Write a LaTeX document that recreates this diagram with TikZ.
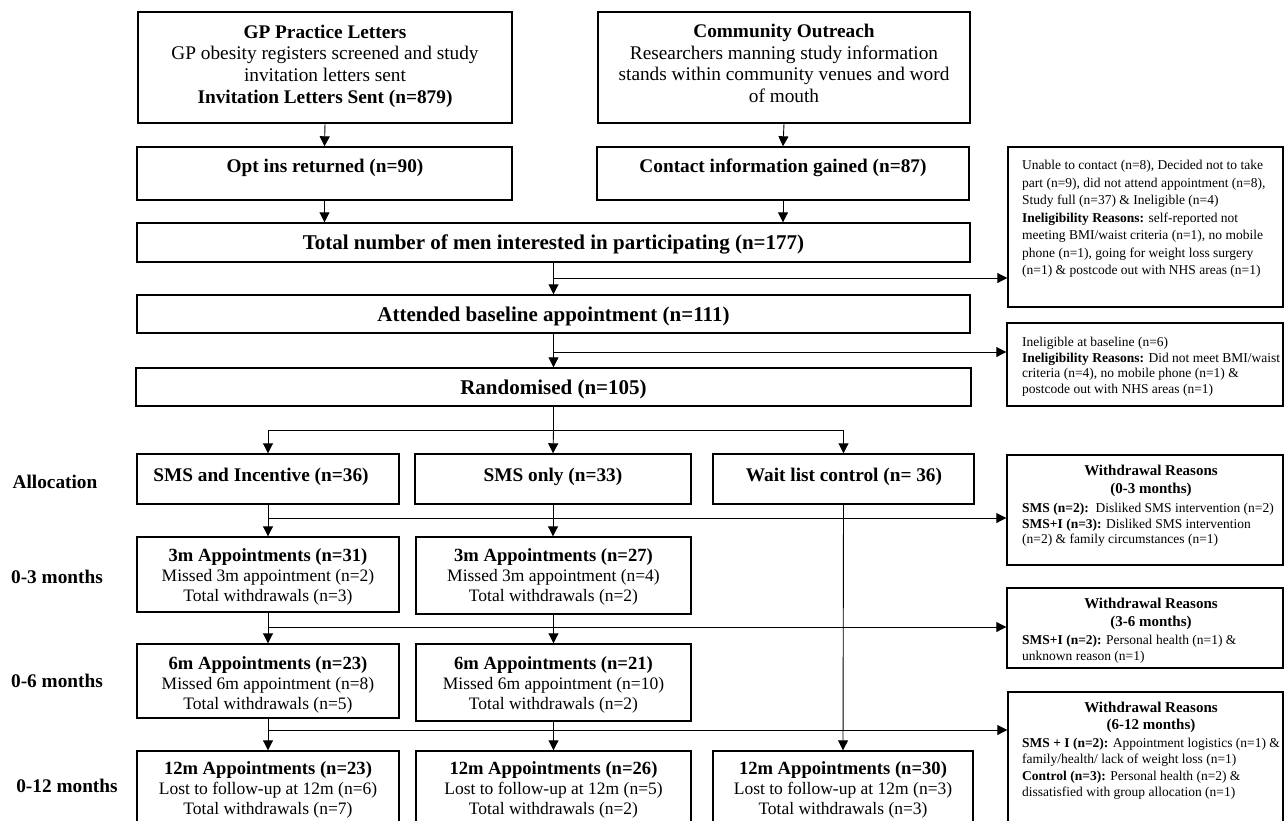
\documentclass[tikz,border=0pt]{standalone}
\usepackage{fontspec}
\setmainfont{Liberation Serif}
\usetikzlibrary{arrows.meta,fit,calc}
\newcommand\setfs[2]{\fontsize{#1}{#2}\selectfont}
\begin{document}
\begin{tikzpicture}[x=1pt,y=-1pt,
  box/.style={draw, line width=1.4pt, inner sep=0pt},
  conn/.style={line width=0.9pt},
  arr/.style={conn, -{Triangle[length=10pt,width=10pt]}},
  main/.style={inner sep=0pt, align=center, font=\setfs{19.3}{21.7}},
  mainb/.style={inner sep=0pt, font=\setfs{19.3}{22}\bfseries},
  big/.style={inner sep=0pt, font=\setfs{21}{24}\bfseries},
  lab/.style={inner sep=0pt, font=\setfs{19.3}{22}\bfseries},
  appt/.style={inner sep=0pt, align=center, font=\setfs{17.5}{20.3}},
  hdr/.style={inner sep=0pt, align=center, font=\setfs{15}{17.5}\bfseries},
  note/.style={inner sep=0pt, align=left, anchor=north west},
]
\useasboundingbox (0,0) rectangle (1285,820);

% ---------- boxes ----------
\node[box, fit={(138,12) (512,123)}] (gp) {};
\node[box, fit={(598,12) (970,123)}] (comm) {};
\node[box, fit={(137,147) (512,200)}] (opt) {};
\node[box, fit={(597,147) (969,200)}] (contact) {};
\node[box, fit={(137,223) (970,262)}] (total) {};
\node[box, fit={(137,295) (970,333)}] (attended) {};
\node[box, fit={(136,368) (971,406)}] (rand) {};
\node[box, fit={(137,454) (399,504)}] (a1) {};
\node[box, fit={(415,454) (691,504)}] (a2) {};
\node[box, fit={(713,454) (974,504)}] (a3) {};
\node[box, fit={(137,537) (399,612)}] (m3a) {};
\node[box, fit={(416,537) (691,614)}] (m3b) {};
\node[box, fit={(137,644) (399,718)}] (m6a) {};
\node[box, fit={(416,644) (691,721)}] (m6b) {};
\node[box, fit={(137,751) (399,840)}] (m12a) {};
\node[box, fit={(416,751) (691,840)}] (m12b) {};
\node[box, fit={(713,751) (973,840)}] (m12c) {};
\node[box, fit={(1008,147) (1283,307)}] (ex1) {};
\node[box, fit={(1007,323) (1283,406)}] (ex2) {};
\node[box, fit={(1007,455) (1283,565)}] (ex3) {};
\node[box, fit={(1007,588) (1283,668)}] (ex4) {};
\node[box, fit={(1008,692) (1283,840)}] (ex5) {};

% ---------- texts ----------
\node[main] (gpt) at (325,66) {\textbf{GP Practice Letters}\\GP obesity registers screened and study\\invitation letters sent\\\textbf{Invitation Letters Sent (n=879)}};
\node[main] (commt) at (784,63.5) {\textbf{Community Outreach}\\Researchers manning study information\\stands within community venues and word\\of mouth};
\node[mainb] (optt) at (325,168) {Opt ins returned (n=90)};
\node[mainb] (contactt) at (783,168) {Contact information gained (n=87)};
\node[big] (totalt) at (553.5,244) {Total number of men interested in participating (n=177)};
\node[big] (attendedt) at (553.5,316.5) {Attended baseline appointment (n=111)};
\node[big] (randt) at (553.5,389) {Randomised (n=105)};
\node[mainb] (a1t) at (261,477) {SMS and Incentive (n=36)};
\node[mainb] (a2t) at (553,477) {SMS only (n=33)};
\node[mainb] (a3t) at (844,477) {Wait list control (n= 36)};

\node[lab] (lalloc) at (55,482) {Allocation};
\node[lab] (l3) at (57,577) {0-3 months};
\node[lab] (l6) at (57,681) {0-6 months};
\node[lab] (l12) at (67,786) {0-12 months};

\node[appt] (m3at) at (268,577) {{\bfseries\setfs{18.6}{20.3}3m Appointments (n=31)}\\Missed 3m appointment (n=2)\\Total withdrawals (n=3)};
\node[appt] (m3bt) at (553.5,577) {{\bfseries\setfs{18.6}{20.3}3m Appointments (n=27)}\\Missed 3m appointment (n=4)\\Total withdrawals (n=2)};
\node[appt] (m6at) at (268,685) {{\bfseries\setfs{18.6}{20.3}6m Appointments (n=23)}\\Missed 6m appointment (n=8)\\Total withdrawals (n=5)};
\node[appt] (m6bt) at (553.5,685) {{\bfseries\setfs{18.6}{20.3}6m Appointments (n=21)}\\Missed 6m appointment (n=10)\\Total withdrawals (n=2)};
\node[appt] (m12at) at (268,790) {{\bfseries\setfs{18.6}{20.3}12m Appointments (n=23)}\\Lost to follow-up at 12m (n=6)\\Total withdrawals (n=7)};
\node[appt] (m12bt) at (553.5,790) {{\bfseries\setfs{18.6}{20.3}12m Appointments (n=26)}\\Lost to follow-up at 12m (n=5)\\Total withdrawals (n=2)};
\node[appt] (m12ct) at (843,790) {{\bfseries\setfs{18.6}{20.3}12m Appointments (n=30)}\\Lost to follow-up at 12m (n=3)\\Total withdrawals (n=3)};

\node[note, font=\setfs{13.5}{17.5}] (ex1t) at (1022,160) {Unable to contact (n=8), Decided not to take\\part (n=9), did not attend appointment (n=8),\\Study full (n=37) \& Ineligible (n=4)\\\textbf{Ineligibility Reasons:} self-reported not\\meeting BMI/waist criteria (n=1), no mobile\\phone (n=1), going for weight loss surgery\\(n=1) \& postcode out with NHS areas (n=1)};
\node[note, font=\setfs{13.5}{15.6}] (ex2t) at (1022,337) {Ineligible at baseline (n=6)\\\textbf{Ineligibility Reasons:} Did not meet BMI/waist\\criteria (n=4), no mobile phone (n=1) \&\\postcode out with NHS areas (n=1)};

\node[hdr] (ex3h) at (1151,481) {Withdrawal Reasons\\(0-3 months)};
\node[note, font=\setfs{13.5}{15.5}] (ex3t) at (1022,503) {\textbf{SMS (n=2):}\ \ Disliked SMS intervention (n=2)\\\textbf{SMS+I (n=3):} Disliked SMS intervention\\(n=2) \& family circumstances (n=1)};
\node[hdr] (ex4h) at (1151,614) {Withdrawal Reasons\\(3-6 months)};
\node[note, font=\setfs{13.5}{15.5}] (ex4t) at (1022,635) {\textbf{SMS+I (n=2):} Personal health (n=1) \&\\unknown reason (n=1)};
\node[hdr] (ex5h) at (1151,717.5) {Withdrawal Reasons\\(6-12 months)};
\node[note, font=\setfs{13.5}{16.3}] (ex5t) at (1022,738) {\textbf{SMS + I (n=2):} Appointment logistics (n=1) \&\\family/health/ lack of weight loss (n=1)\\\textbf{Control (n=3):} Personal health (n=2) \&\\dissatisfied with group allocation (n=1)};

% ---------- connectors ----------
\draw[arr] (gp.south) -- (opt.north);
\draw[arr] (comm.south) -- (contact.north);
\draw[arr] (opt.south) -- (opt.south |- total.north);
\draw[arr] (contact.south) -- (contact.south |- total.north);
\draw[arr] (total.south) -- (attended.north);
\coordinate (j1) at (553.5,278);
\draw[arr] (j1) -- (ex1.west |- j1);
\draw[arr] (attended.south) -- (rand.north);
\coordinate (j2) at (553.5,352);
\draw[arr] (j2) -- (ex2.west |- j2);
\coordinate (j3) at (553.5,430);
\draw[conn] (rand.south) -- (j3);
\draw[conn] (a1.north |- j3) -- (a3.north |- j3);
\draw[arr] (a1.north |- j3) -- (a1.north);
\draw[arr] (j3) -- (a2.north);
\draw[arr] (a3.north |- j3) -- (a3.north);
% allocation -> 3m
\draw[arr] (a1.south) -- (m3a.north);
\draw[arr] (a2.south) -- (a2.south |- m3b.north);
\coordinate (j4) at (268,518);
\draw[arr] (j4) -- (ex3.west |- j4);
\draw[arr] (a3.south) -- (m12c.north);
% 3m -> 6m
\draw[arr] (m3a.south) -- (m6a.north);
\draw[arr] (m3b.south) -- (m6b.north);
\coordinate (j5) at (268,627);
\draw[arr] (j5) -- (ex4.west |- j5);
% 6m -> 12m
\draw[arr] (m6a.south) -- (m12a.north);
\draw[arr] (m6b.south) -- (m12b.north);
\coordinate (j6) at (268,730);
\draw[arr] (j6) -- (ex5.west |- j6);
\end{tikzpicture}
\end{document}
